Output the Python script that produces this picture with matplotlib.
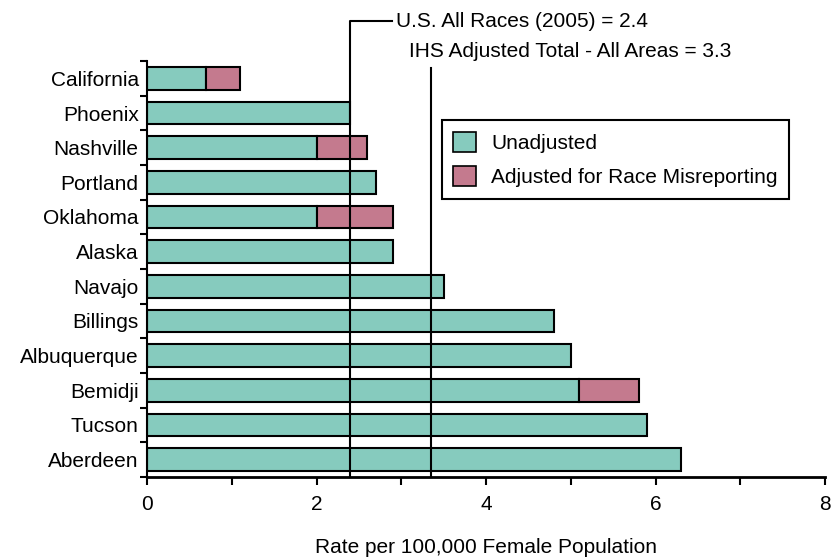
import matplotlib
matplotlib.use('Agg')
import matplotlib.pyplot as plt
import matplotlib.transforms as mtransforms
from matplotlib.patches import Patch
import numpy as np

plt.rcParams['font.family'] = ['Liberation Sans', 'DejaVu Sans']

regions = ['California', 'Phoenix', 'Nashville', 'Portland', 'Oklahoma', 'Alaska',
           'Navajo', 'Billings', 'Albuquerque', 'Bemidji', 'Tucson', 'Aberdeen']
unadjusted = [0.7, 2.4, 2.0, 2.7, 2.0, 2.9, 3.5, 4.8, 5.0, 5.1, 5.9, 6.3]
adjusted = [1.1, 2.4, 2.6, 2.7, 2.9, 2.9, 3.5, 4.8, 5.0, 5.8, 5.9, 6.3]
us_rate = 2.4
ihs_rate = 3.35
us_label = 'U.S. All Races (2005) = 2.4'
ihs_label = 'IHS Adjusted Total - All Areas = 3.3'

teal = '#86cbbe'
pink = '#c47a8e'
fs = 15

fig = plt.figure(figsize=(8.33, 5.58), dpi=100)
ax = fig.add_axes([147 / 833, 81 / 558, 678 / 833, 416 / 558])

y = np.arange(len(regions))
unadj = np.array(unadjusted)
extra = np.array(adjusted) - unadj

ax.barh(y, unadj, height=0.66, color=teal, edgecolor='black', linewidth=1.5, zorder=2)
m = extra > 0.001
ax.barh(y[m], extra[m], left=unadj[m], height=0.66, color=pink,
        edgecolor='black', linewidth=1.5, zorder=2)

ax.set_ylim(len(regions) - 0.5, -0.5)
ax.set_xlim(0, 8)

# reference lines (y in axes fraction so they can rise above the plot)
trans = mtransforms.blended_transform_factory(ax.transData, ax.transAxes)
ax.plot([us_rate, us_rate, 2.89], [0, 1.096, 1.096], color='black', lw=1.5,
        transform=trans, clip_on=False, zorder=4)
ax.plot([ihs_rate, ihs_rate], [0, 0.983], color='black', lw=1.5,
        transform=trans, clip_on=False, zorder=4)
ax.text(2.94, 1.096, us_label, transform=trans, ha='left', va='center', fontsize=fs)
ax.text(4.99, 1.022, ihs_label, transform=trans, ha='center', va='center', fontsize=fs)

# axes styling
for s in ['top', 'right']:
    ax.spines[s].set_visible(False)
ax.spines['left'].set_linewidth(1.5)
ax.spines['bottom'].set_linewidth(2)

ax.set_xticks([0, 2, 4, 6, 8])
ax.set_xticks([1, 3, 5, 7], minor=True)
ax.tick_params(axis='x', which='both', direction='out', length=6, width=1.5,
               labelsize=fs, pad=7)

ax.set_yticks(y)
ax.set_yticklabels(regions)
ax.set_yticks(np.arange(len(regions) + 1) - 0.5, minor=True)
ax.tick_params(axis='y', which='major', length=0, labelsize=fs, pad=6)
ax.tick_params(axis='y', which='minor', direction='out', length=5, width=1.5)

ax.set_xlabel('Rate per 100,000 Female Population', fontsize=fs, labelpad=17)

handles = [Patch(facecolor=teal, edgecolor='black', linewidth=1.2, label='Unadjusted'),
           Patch(facecolor=pink, edgecolor='black', linewidth=1.2,
                 label='Adjusted for Race Misreporting')]
leg = ax.legend(handles=handles, loc='upper left', bbox_to_anchor=(0.435, 0.858),
                borderaxespad=0, fontsize=fs, fancybox=False, edgecolor='black',
                handlelength=1.1, handleheight=1.1, handletextpad=0.7,
                labelspacing=0.65, borderpad=0.55, framealpha=1)
leg.get_frame().set_linewidth(1.5)

fig.savefig('out.png', dpi=100)
